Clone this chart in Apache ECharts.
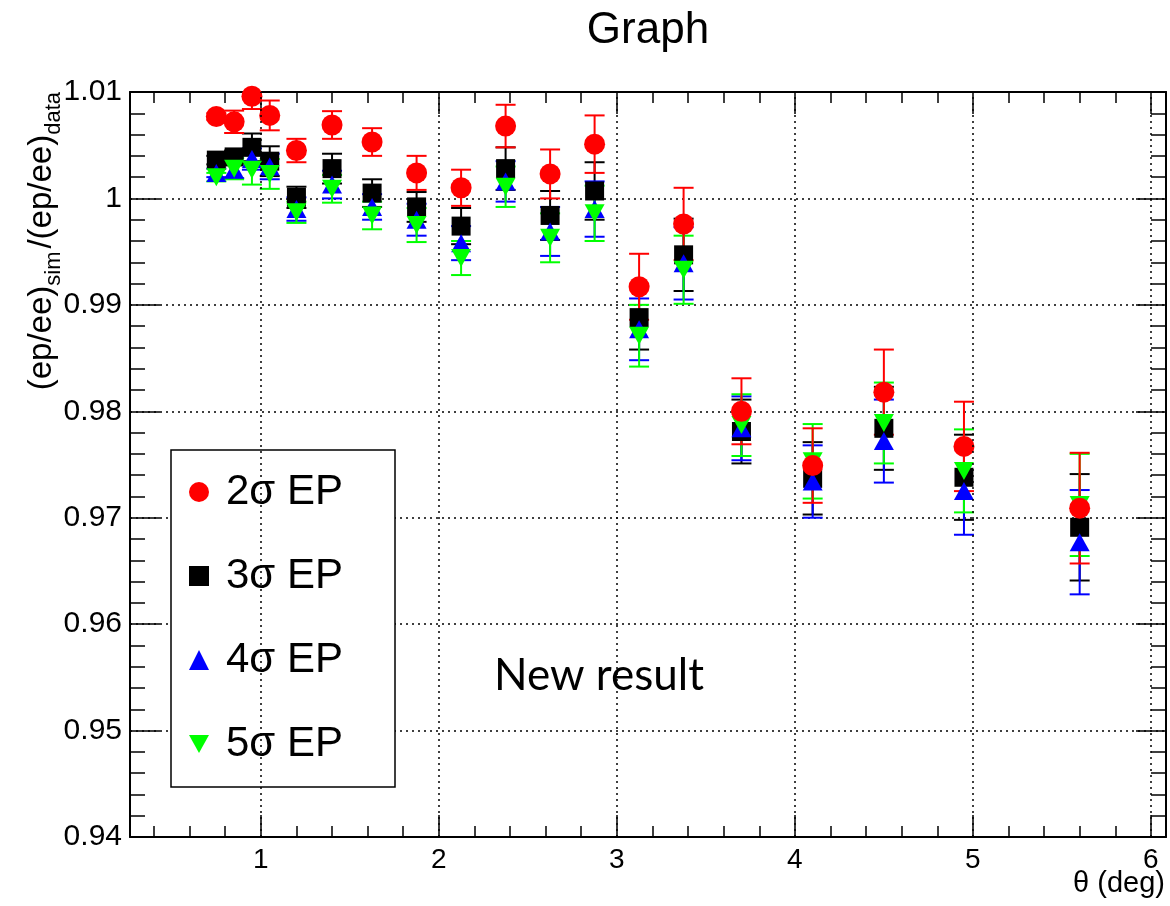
<!DOCTYPE html>
<html><head><meta charset="utf-8">
<script src="https://cdn.jsdelivr.net/npm/echarts@6/dist/echarts.min.js"></script>
<style>html,body{margin:0;padding:0;background:#fff}#c{width:1170px;height:906px}</style>
</head><body><div id="c"></div>
<script>
// ---------------- data ----------------
const thetaDeg = [0.75, 0.85, 0.95, 1.05, 1.2, 1.4, 1.625, 1.875, 2.125, 2.375, 2.625, 2.875, 3.125, 3.375, 3.7, 4.1, 4.5, 4.95, 5.6];

const ratio2sigma = [1.0077, 1.0072, 1.0096, 1.0078, 1.0045, 1.0069, 1.0053, 1.0024, 1.0010, 1.0068, 1.0023, 1.0051, 0.9917, 0.9976, 0.9800, 0.9749, 0.9818, 0.9767, 0.9709];
const err2sigma   = [0.0003, 0.00105, 0.0012, 0.0014, 0.0011, 0.0013, 0.0013, 0.0016, 0.0017, 0.0020, 0.0023, 0.0027, 0.0031, 0.0034, 0.0031, 0.0035, 0.0040, 0.0042, 0.0052];

const ratio3sigma = [1.0036, 1.0039, 1.0048, 1.0035, 1.0001, 1.0028, 1.0005, 0.9992, 0.9974, 1.0028, 0.9984, 1.0007, 0.9888, 0.9947, 0.9781, 0.9737, 0.9784, 0.9738, 0.9691];
const err3sigma   = [0.0004, 0.0006, 0.0013, 0.0014, 0.0010, 0.0014, 0.0013, 0.0014, 0.0017, 0.0020, 0.0023, 0.0027, 0.0030, 0.0034, 0.0030, 0.0034, 0.0039, 0.0040, 0.0050];

const ratio4sigma = [1.0024, 1.0027, 1.0037, 1.0030, 0.9990, 1.0013, 0.9992, 0.9980, 0.9958, 1.0016, 0.9969, 0.9990, 0.9877, 0.9939, 0.9784, 0.9734, 0.9772, 0.9725, 0.9677];
const err4sigma   = [0.0004, 0.0008, 0.0010, 0.0012, 0.0011, 0.0013, 0.0012, 0.0015, 0.0016, 0.0019, 0.0023, 0.0026, 0.0029, 0.0034, 0.0030, 0.0034, 0.0039, 0.0041, 0.0049];

const ratio5sigma = [1.0020, 1.0028, 1.0027, 1.0023, 0.9987, 1.0009, 0.9984, 0.9975, 0.9944, 1.0011, 0.9963, 0.9986, 0.9871, 0.9933, 0.9787, 0.9753, 0.9789, 0.9744, 0.9712];
const err5sigma   = [0.0004, 0.0010, 0.0014, 0.0014, 0.0010, 0.0013, 0.0013, 0.0016, 0.0016, 0.0019, 0.0023, 0.0026, 0.0029, 0.0032, 0.0029, 0.0035, 0.0038, 0.0039, 0.0048];

const seriesNames = ['2σ EP', '3σ EP', '4σ EP', '5σ EP'];

const xMajorTicks = [1, 2, 3, 4, 5, 6];
const xMinorTicks = [0.4, 0.6, 0.8, 1.2, 1.4, 1.6, 1.8, 2.2, 2.4, 2.6, 2.8, 3.2, 3.4, 3.6, 3.8, 4.2, 4.4, 4.6, 4.8, 5.2, 5.4, 5.6, 5.8];

const X_MIN = 0.265, X_MAX = 6.085;
const Y_MIN = 0.94, Y_MAX = 1.01, Y_STEP = 0.01;

const titleText = 'Graph';
const xTitle = 'θ (deg)';
const annotation = 'New result';

// ---------------- chart ----------------
const FONT = '"Liberation Sans", Arial, Helvetica, sans-serif';
const chart = echarts.init(document.getElementById('c'), null, {renderer: 'canvas'});

function zip(xs, ys, es) { return xs.map((x, i) => [x, ys[i], es[i]]); }

function errRender(color) {
  return function (params, api) {
    const x = api.value(0), y = api.value(1), e = api.value(2);
    const p1 = api.coord([x, y + e]);
    const p2 = api.coord([x, y - e]);
    const hw = 10;
    const style = {stroke: color, lineWidth: 2};
    return {type: 'group', children: [
      {type: 'line', shape: {x1: p1[0], y1: p1[1], x2: p2[0], y2: p2[1]}, style},
      {type: 'line', shape: {x1: p1[0] - hw, y1: p1[1], x2: p1[0] + hw, y2: p1[1]}, style},
      {type: 'line', shape: {x1: p2[0] - hw, y1: p2[1], x2: p2[0] + hw, y2: p2[1]}, style}
    ]};
  };
}

const INV_TRI = 'path://M0,0 L20,0 L10,18 Z';
const defs = [
  {name: seriesNames[1], y: ratio3sigma, e: err3sigma, color: '#000000', symbol: 'rect', size: [19, 19]},
  {name: seriesNames[2], y: ratio4sigma, e: err4sigma, color: '#0000ff', symbol: 'triangle', size: [20, 18]},
  {name: seriesNames[3], y: ratio5sigma, e: err5sigma, color: '#00ff00', symbol: INV_TRI, size: [20, 18]},
  {name: seriesNames[0], y: ratio2sigma, e: err2sigma, color: '#ff0000', symbol: 'circle', size: 21}
];

const series = [];
series.push({
  type: 'scatter', data: [], silent: true, xAxisIndex: 0, yAxisIndex: 0,
  markLine: {
    silent: true, symbol: ['none', 'none'], label: {show: false},
    lineStyle: {color: '#000', type: [2, 4], width: 1.5},
    data: xMajorTicks.map(v => ({xAxis: v}))
  }
});
defs.forEach(d => {
  series.push({
    type: 'custom', name: d.name + ' err', clip: true, xAxisIndex: 0, yAxisIndex: 0,
    renderItem: errRender(d.color), data: zip(thetaDeg, d.y, d.e), silent: true
  });
  series.push({
    type: 'scatter', name: d.name, xAxisIndex: 0, yAxisIndex: 0,
    symbol: d.symbol, symbolSize: d.size,
    itemStyle: {color: d.color, opacity: 1},
    data: thetaDeg.map((x, i) => [x, d.y[i]]), silent: true
  });
});

function xAxisDef(pos, values, len, showLine, showLabel) {
  return {
    type: 'value', position: pos, min: X_MIN, max: X_MAX,
    axisLine: {show: showLine, onZero: false, lineStyle: {color: '#000', width: 2}},
    axisTick: {show: true, inside: true, length: len, customValues: values, lineStyle: {color: '#000', width: 1.5}},
    axisLabel: {show: showLabel, customValues: values, color: '#000', fontFamily: FONT, fontSize: 28, margin: 9},
    splitLine: {show: false}, minorTick: {show: false}
  };
}
function yAxisDef(pos, showLabel) {
  return {
    type: 'value', position: pos, min: Y_MIN, max: Y_MAX, interval: Y_STEP,
    axisLine: {show: true, onZero: false, lineStyle: {color: '#000', width: 2}},
    axisTick: {show: true, inside: true, length: 30, lineStyle: {color: '#000', width: 1.5}},
    minorTick: {show: true, splitNumber: 5, length: 15, lineStyle: {color: '#000', width: 1.5}},
    axisLabel: {show: showLabel, color: '#000', fontFamily: FONT, fontSize: 30, margin: 8,
      formatter: v => (Math.abs(v - 1) < 1e-9 ? '1' : v.toFixed(2))},
    splitLine: {show: pos === 'left', lineStyle: {color: '#000', type: [2, 4], width: 1.5}}
  };
}

// y-axis title pieces (rotated)
const measCtx = document.createElement('canvas').getContext('2d');
function tw(txt, size) { measCtx.font = size + 'px ' + FONT; return measCtx.measureText(txt).width; }
const yTitleParts = [
  {t: '(ep/ee)', sub: false}, {t: 'sim', sub: true}, {t: '/(ep/ee)', sub: false}, {t: 'data', sub: true}
];
const MAIN_FS = 33, SUB_FS = 22;
let off = 0;
const yTitleChildren = yTitleParts.map(p => {
  const fs = p.sub ? SUB_FS : MAIN_FS;
  const el = {type: 'text', x: off, y: p.sub ? 12 : 0,
    style: {text: p.t, fontSize: fs, fontFamily: FONT, fill: '#000', align: 'left', verticalAlign: 'middle'}};
  off += tw(p.t, fs) + (p.sub ? 3 : 0);
  return el;
});
const yTitleTop = 89;

chart.setOption({
  animation: false,
  backgroundColor: '#fff',
  grid: {left: 130, right: 4, top: 92, bottom: 69, containLabel: false},
  xAxis: [
    xAxisDef('bottom', xMajorTicks, 22, true, true),
    xAxisDef('bottom', xMinorTicks, 11, false, false),
    xAxisDef('top', xMajorTicks, 22, true, false),
    xAxisDef('top', xMinorTicks, 11, false, false)
  ],
  yAxis: [yAxisDef('left', true), yAxisDef('right', false)],
  legend: {
    show: true, orient: 'vertical', left: 189, top: 471, padding: 0, z: 6,
    itemWidth: 20, itemHeight: 20, itemGap: 42,
    textStyle: {fontFamily: FONT, fontSize: 42, lineHeight: 42, color: '#000', padding: [0, 0, 0, 12]},
    data: [
      {name: seriesNames[0], icon: 'circle'},
      {name: seriesNames[1], icon: 'rect'},
      {name: seriesNames[2], icon: 'triangle'},
      {name: seriesNames[3], icon: INV_TRI}
    ]
  },
  graphic: [
    {type: 'rect', z: 5, shape: {x: 171, y: 450, width: 224, height: 337},
      style: {fill: '#fff', stroke: '#000', lineWidth: 1.5}},
    {type: 'text', z: 5, x: 648, y: 31, style: {text: titleText, fontSize: 44, fontFamily: FONT, fill: '#000', align: 'center', verticalAlign: 'middle'}},
    {type: 'text', z: 5, x: 1165, y: 884, style: {text: xTitle, fontSize: 29, fontFamily: FONT, fill: '#000', align: 'right', verticalAlign: 'middle'}},
    {type: 'text', z: 5, x: 599, y: 676, style: {text: annotation, fontSize: 44, fontFamily: 'Lato, "Open Sans", sans-serif', fill: '#000', align: 'center', verticalAlign: 'middle'}},
    {type: 'group', z: 5, x: 42, y: yTitleTop + off, rotation: Math.PI / 2, children: yTitleChildren}
  ],
  series: series
});
</script>
</body></html>
